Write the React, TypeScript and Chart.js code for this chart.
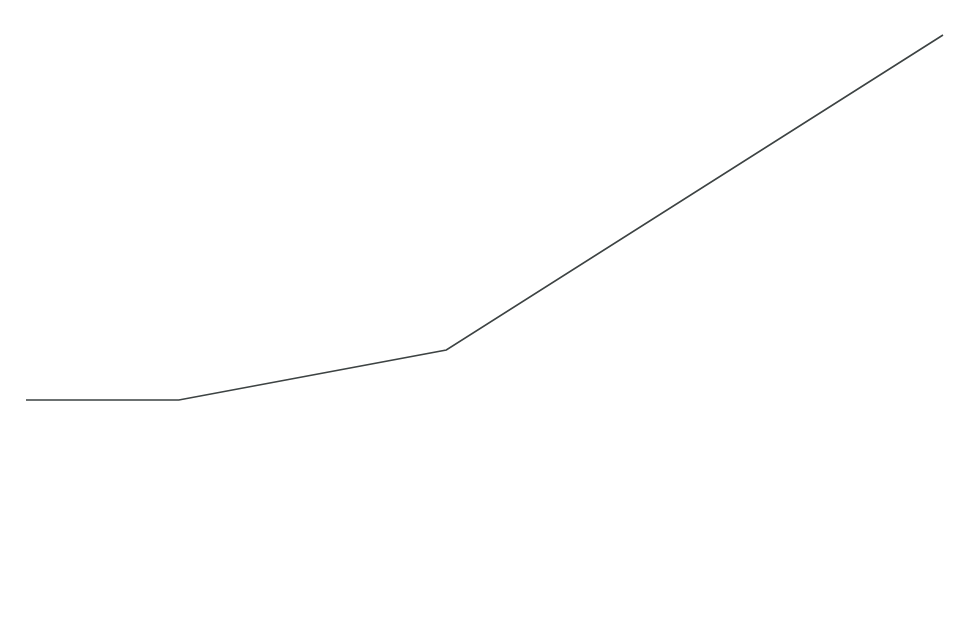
import React, { useEffect, useRef } from 'react';
import Chart from 'chart.js/auto';

// x positions and y values of the line's corners
const xValues = [0, 2, 5.5, 12];
const yValues = [0, 0, 1.37, 10];

const App: React.FC = () => {
  const chartRef = useRef<HTMLCanvasElement | null>(null);

  useEffect(() => {
    let chart: Chart<'line'> | null = null;
    const ctx = chartRef.current?.getContext('2d');
    if (ctx) {
      chart = new Chart(ctx, {
        type: 'line',
        data: {
          datasets: [
            {
              data: xValues.map((x, i) => ({ x, y: yValues[i] })),
              borderColor: '#3d4343',
              borderWidth: 1.6,
              pointRadius: 0,
              tension: 0,
              fill: false,
              clip: false,
            },
          ],
        },
        options: {
          animation: false,
          responsive: false,
          events: [],
          layout: { padding: { left: 26, right: 17, top: 35, bottom: 223 } },
          plugins: { legend: { display: false }, tooltip: { enabled: false } },
          scales: {
            x: { type: 'linear', min: 0, max: 12, display: false },
            y: { min: 0, max: 10, display: false },
          },
        },
      });
    }
    return () => {
      if (chart) chart.destroy();
    };
  }, []);

  return (
    <div style={{ position: 'fixed', left: 0, top: 0, width: 960, height: 623, background: '#fff' }}>
      <canvas ref={chartRef} width={960} height={623} style={{ width: 960, height: 623 }} />
    </div>
  );
};

export default App;
